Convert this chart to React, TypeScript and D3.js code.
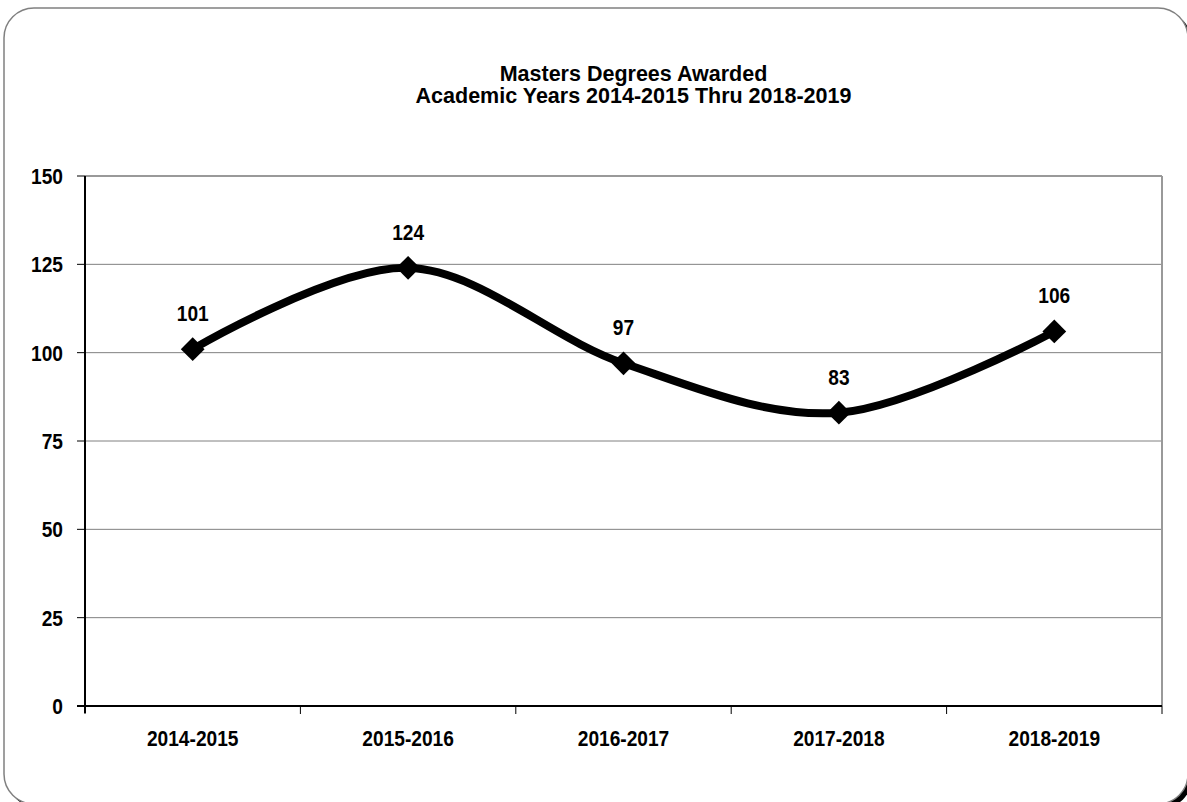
import React from "react";
import * as d3 from "d3";

const categories = ["2014-2015", "2015-2016", "2016-2017", "2017-2018", "2018-2019"];
const values = [101, 124, 97, 83, 106];
const yTicks = [0, 25, 50, 75, 100, 125, 150];
const titleLines = ["Masters Degrees Awarded", "Academic Years 2014-2015 Thru 2018-2019"];

const W = 1187;
const H = 802;
const plot = { left: 85, right: 1162, top: 176, bottom: 706 };
const FONT = "'Liberation Sans', Arial, sans-serif";

function T({ x, y, anchor = "middle", size = 22, sx = 0.87, children }: any) {
  return (
    <g transform={`translate(${x},${y}) scale(${sx},1)`}>
      <text x={0} y={0} dy="0.36em" textAnchor={anchor} fontFamily={FONT} fontWeight="bold"
        fontSize={size} fill="#000">{children}</text>
    </g>
  );
}

export default function App() {
  const x = d3.scaleBand<string>().domain(categories).range([plot.left, plot.right]);
  const y = d3.scaleLinear().domain([0, 150]).range([plot.bottom, plot.top]);
  const cx = (c: string) => (x(c) as number) + x.bandwidth() / 2;
  const pts: [number, number][] = categories.map((c, i) => [cx(c), y(values[i])]);
  const line = d3.line().curve(d3.curveCardinal.tension(0))(pts) as string;
  const diamond = d3.symbol().type(d3.symbolDiamond2).size(360)() as string;
  const bounds = categories.map((c) => x(c) as number).concat([plot.right]);

  return (
    <svg width={W} height={H} style={{ position: "absolute", left: 0, top: 0 }}>
      <rect x={0} y={0} width={W} height={H} fill="#fff" />
      <rect x={8} y={12} width={1184} height={796} rx={30} ry={30} fill="#000" />
      <rect x={4} y={8} width={1184} height={796} rx={30} ry={30} fill="#fff" stroke="#808080" strokeWidth={1.5} />
      {titleLines.map((t, i) => (
        <T key={i} x={(plot.left + plot.right) / 2 + 10} y={73 + i * 22} size={21.5} sx={1.0}>{t}</T>
      ))}
      {yTicks.filter((t) => t > 0 && t < 150).map((t) => (
        <line key={t} x1={plot.left} x2={plot.right} y1={y(t)} y2={y(t)} stroke="#808080" strokeWidth={1} />
      ))}
      <line x1={plot.left} x2={plot.right} y1={y(150)} y2={y(150)} stroke="#999" strokeWidth={2} />
      <line x1={plot.right} x2={plot.right} y1={y(150)} y2={plot.bottom} stroke="#999" strokeWidth={2} />
      <line x1={plot.left} x2={plot.left} y1={y(150)} y2={plot.bottom + 7} stroke="#000" strokeWidth={2} />
      <line x1={plot.left - 8} x2={plot.right} y1={plot.bottom} y2={plot.bottom} stroke="#000" strokeWidth={2} />
      {yTicks.map((t) => (
        <g key={t}>
          <line x1={plot.left - 8} x2={plot.left} y1={y(t)} y2={y(t)} stroke="#000" strokeWidth={1} />
          <T x={plot.left - 22} y={y(t)} anchor="end">{t}</T>
        </g>
      ))}
      {bounds.map((b, i) => (
        <line key={i} x1={b} x2={b} y1={plot.bottom} y2={plot.bottom + 8} stroke="#000" strokeWidth={1} />
      ))}
      {categories.map((c) => (
        <T key={c} x={cx(c)} y={738}>{c}</T>
      ))}
      <path d={line} fill="none" stroke="#000" strokeWidth={8} strokeLinejoin="round" />
      {pts.map((p, i) => (
        <g key={i}>
          <path d={diamond} transform={`translate(${p[0]},${p[1]})`} fill="#000" />
          <T x={p[0]} y={p[1] - 36}>{values[i]}</T>
        </g>
      ))}
    </svg>
  );
}
